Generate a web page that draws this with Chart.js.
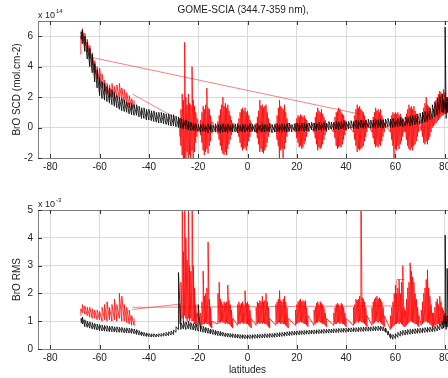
<html>
<head>
<meta charset="UTF-8">
<title>GOME-SCIA BrO</title>
<script src="https://cdn.jsdelivr.net/npm/chart.js@4.4.0/dist/chart.umd.min.js"></script>
<style>
body { margin: 0; width: 448px; height: 378px; overflow: hidden; background: #fff; position: relative; }
canvas { position: absolute; left: 0; }
</style>
</head>
<body>
<canvas id="scd" width="470" height="178" style="top:0"></canvas>
<canvas id="rms" width="470" height="188" style="top:190px"></canvas>
<script>
// black series: latitudes, low / high edge of the noisy track
// SCD in 1e14 molec/cm2, RMS in 1e-3
const blackLat = [-67.5,-67,-66,-65,-64,-63,-62,-61,-60,-59,-58,-57,-56,-55,-54,-53,-52,-51,-50,-49,-48,-47,-46,-45,-44,-43,-42,-41,-40,-39,-38,-37,-36,-35,-34,-33,-32,-31,-30,-29,-28,-27,-26,-25,-24,-23,-22,-21,-20,
  -19,-18,-17,-16,-15,-14,-13,-12,-11,-10,
  -9,-8,-7,-6,-5,-4,-3,-2,-1,0,
  1,2,3,4,5,6,7,8,9,10,
  11,12,13,14,15,16,17,18,19,20,
  21,22,23,24,25,26,27,28,29,30,
  31,32,33,34,35,36,37,38,39,40,
  41,42,43,44,45,46,47,48,49,50,
  51,52,53,54,55,56,57,58,59,60,
  61,62,63,64,65,66,67,68,69,70,
  71,72,73,74,75,76,77,78,79,
  79.6,80.2,80.6,81,81.5,82,83,84];
const blackScdLo = [5.8,5.5,5.0,4.5,4.0,3.6,3.0,2.6,2.1,1.9,1.8,1.7,1.6,1.5,1.4,1.3,1.2,1.1,1.05,1.0,0.9,0.85,0.8,0.8,0.7,0.6,0.6,0.5,0.5,0.45,0.4,0.35,0.3,0.3,0.25,0.2,0.15,0.1,0.1,0.05,0.0,-0.05,-0.1,-0.1,-0.15,-0.2,-0.2,-0.25,-0.26,
  -0.3,-0.25,-0.3,-0.35,-0.25,-0.3,-0.3,-0.25,-0.35,-0.3,
  -0.3,-0.35,-0.25,-0.3,-0.3,-0.35,-0.25,-0.3,-0.3,-0.25,
  -0.3,-0.25,-0.3,-0.35,-0.25,-0.3,-0.3,-0.25,-0.3,-0.35,
  -0.3,-0.25,-0.3,-0.3,-0.25,-0.3,-0.25,-0.3,-0.2,-0.25,
  -0.25,-0.2,-0.25,-0.2,-0.25,-0.15,-0.2,-0.2,-0.15,-0.2,
  -0.15,-0.2,-0.15,-0.1,-0.15,-0.1,-0.15,-0.1,-0.1,-0.15,
  -0.1,-0.05,-0.1,-0.05,-0.1,0.0,-0.05,-0.05,0.0,-0.05,
  0.0,-0.05,0.0,0.0,-0.05,0.0,0.05,0.0,0.0,0.05,
  0.05,0.1,0.05,0.1,0.15,0.1,0.15,0.2,0.2,0.25,
  0.3,0.35,0.4,0.5,0.6,0.7,0.8,0.9,1.0,
  1.0,1.2,0.6,1.0,0.9,1.0,1.0,1.1];
const blackScdHi = [6.3,6.4,6.0,5.6,5.2,4.8,4.2,3.8,3.3,3.0,2.9,2.7,2.6,2.5,2.3,2.1,2.0,1.9,1.8,1.7,1.6,1.6,1.5,1.5,1.4,1.3,1.3,1.2,1.2,1.1,1.1,1.0,1.0,1.0,0.95,0.9,0.9,0.85,0.85,0.75,0.7,0.6,0.55,0.5,0.4,0.35,0.3,0.25,0.2,
  0.2,0.25,0.15,0.25,0.2,0.15,0.25,0.2,0.2,0.25,
  0.2,0.25,0.15,0.2,0.25,0.2,0.15,0.25,0.2,0.2,
  0.25,0.2,0.2,0.25,0.15,0.25,0.2,0.2,0.25,0.2,
  0.2,0.25,0.2,0.25,0.2,0.25,0.3,0.2,0.25,0.3,
  0.25,0.3,0.3,0.25,0.3,0.35,0.3,0.3,0.35,0.3,
  0.35,0.3,0.4,0.35,0.35,0.4,0.35,0.4,0.45,0.4,
  0.4,0.45,0.4,0.5,0.45,0.5,0.45,0.5,0.55,0.5,
  0.5,0.55,0.5,0.55,0.5,0.55,0.6,0.55,0.6,0.55,
  0.6,0.65,0.6,0.7,0.7,0.75,0.8,0.8,0.9,0.95,
  1.0,1.05,1.1,1.3,1.5,1.7,1.9,2.1,2.2,
  1.8,6.6,1.6,2.0,1.8,1.9,1.7,1.6];
const blackRmsLo = [0.95,0.9,0.8,0.78,0.75,0.72,0.7,0.68,0.66,0.65,0.64,0.63,0.62,0.62,0.61,0.6,0.6,0.6,0.58,0.58,0.57,0.56,0.55,0.52,0.5,0.48,0.46,0.45,0.44,0.43,0.43,0.43,0.44,0.45,0.46,0.47,0.48,0.5,0.52,0.6,0.7,0.7,0.72,0.7,0.72,0.7,0.68,0.66,0.64,
  0.62,0.6,0.58,0.56,0.54,0.52,0.5,0.48,0.47,0.46,
  0.44,0.43,0.42,0.41,0.4,0.39,0.38,0.38,0.37,0.37,
  0.37,0.38,0.38,0.39,0.39,0.4,0.4,0.41,0.41,0.42,
  0.42,0.43,0.44,0.45,0.46,0.47,0.48,0.49,0.5,0.5,
  0.51,0.52,0.52,0.53,0.53,0.54,0.54,0.55,0.55,0.56,
  0.56,0.57,0.57,0.58,0.58,0.59,0.59,0.6,0.6,0.6,
  0.61,0.61,0.62,0.62,0.62,0.63,0.63,0.64,0.64,0.64,
  0.65,0.65,0.66,0.66,0.65,0.6,0.5,0.38,0.35,0.38,
  0.42,0.46,0.49,0.5,0.52,0.53,0.54,0.55,0.56,0.57,
  0.58,0.59,0.6,0.61,0.62,0.63,0.65,0.68,0.72,
  0.75,0.8,0.7,0.8,0.75,0.8,0.8,0.85];
const blackRmsHi = [1.1,1.15,1.05,1.0,0.98,0.95,0.92,0.9,0.88,0.86,0.85,0.84,0.82,0.82,0.8,0.8,0.78,0.78,0.76,0.76,0.75,0.74,0.72,0.7,0.66,0.62,0.6,0.58,0.56,0.55,0.55,0.54,0.55,0.56,0.58,0.6,0.62,0.65,0.68,0.8,2.75,0.95,1.0,0.98,1.0,0.95,0.92,0.9,1.6,
  0.85,0.82,0.78,0.75,0.72,0.7,0.67,0.65,0.63,0.6,
  0.58,0.57,0.56,0.55,0.54,0.53,0.52,0.52,0.51,0.51,
  0.51,0.52,0.52,0.53,0.53,0.54,0.55,0.55,0.56,0.56,
  0.57,0.58,0.59,0.6,0.61,0.62,0.63,0.64,0.65,0.65,
  0.66,0.66,0.67,0.67,0.68,0.68,0.69,0.69,0.7,0.7,
  0.71,0.71,0.72,0.72,0.73,0.73,0.74,0.74,0.75,0.75,
  0.76,0.76,0.77,0.77,0.78,0.78,0.79,0.79,0.8,0.8,
  0.81,0.81,0.82,0.82,0.8,0.76,0.65,0.55,0.52,0.55,
  0.6,0.64,0.67,0.68,0.7,0.71,0.72,0.73,0.74,0.75,
  0.76,0.77,0.78,0.79,0.8,0.82,0.85,0.9,1.0,
  1.2,4.1,1.0,2.9,1.1,1.2,1.1,1.1];

// red series: south polar track, then one burst per orbit (low / high edge)
const redLat = [
  -67.6,-67,-66,-65,-64,-63,-62,-61,-60,-59,-58,-57,-56,-55,-54,-53,-52,-51,-50,-49,-48,-47,-46,
  null,
  -27.5,-27,-26.5,-26,-25.5,-25,-24.5,-24,-23.5,-23,-22.5,-22,-21.5,-21,-20.5,
  -19,-18.5,-18,-17.5,-17,-16.5,-16,-15.5,-15,-14.5,
  -12,-11.5,-11,-10.5,-10,-9.5,-9,-8.5,-8,-7.5,-7,-6.5,-6,
  -4,-3.5,-3,-2.5,-2,-1.5,-1,-0.5,0,0.5,1,1.5,
  3.5,4,4.5,5,5.5,6,6.5,7,7.5,8,8.5,9,
  11.5,12,12.5,13,13.5,14,14.5,15,15.5,16,16.5,
  19.5,20,20.5,21,21.5,22,22.5,23,23.5,24,24.5,
  27,27.5,28,28.5,29,29.5,30,30.5,31,31.5,32,
  35,35.5,36,36.5,37,37.5,38,38.5,39,39.5,40,
  43,43.5,44,44.5,45,45.5,46,46.5,47,47.5,48,48.5,
  50.5,51,51.5,52,52.5,53,53.5,54,54.5,55,55.5,
  58,58.5,59,59.5,60,60.5,61,61.5,62,62.5,63,63.5,
  64,64.5,65,65.5,66,66.5,67,67.5,68,68.5,69,69.5,
  70.5,71,71.5,72,72.5,73,73.5,74,74.5,75,
  75.5,76,76.5,77,77.5,78,78.5,79,79.5,80,80.5,81,81.5,82];
const redScdLo = [
  4.8,5.8,5.4,5.0,4.5,4.1,3.6,3.2,2.9,2.6,2.4,2.2,2.0,2.0,1.9,2.0,1.9,1.8,1.6,1.5,1.3,1.2,1.3,
  null,
  -0.6,-1.2,-1.8,-2.2,-2.5,-2.0,-1.6,-2.5,-1.8,-2.5,-1.5,-2.5,-1.6,-1.0,-0.6,
  -0.5,-1.0,-1.5,-1.8,-1.6,-1.4,-1.7,-1.2,-0.9,-0.4,
  -0.4,-0.8,-1.2,-1.5,-1.7,-1.8,-1.6,-1.8,-1.4,-1.1,-0.8,-0.5,-0.3,
  -0.3,-0.6,-1.0,-1.3,-1.5,-1.4,-1.3,-1.5,-1.2,-0.9,-0.6,-0.3,
  -0.3,-0.7,-1.1,-1.6,-1.4,-1.6,-1.7,-1.5,-1.3,-1.0,-0.6,-0.3,
  -0.3,-0.8,-1.2,-2.5,-1.5,-1.4,-2.6,-1.4,-1.0,-0.6,-0.3,
  -0.3,-0.7,-1.0,-1.3,-1.2,-1.4,-1.3,-1.1,-0.9,-0.6,-0.3,
  -0.3,-0.7,-1.1,-1.5,-1.3,-1.4,-1.3,-1.1,-0.8,-0.5,-0.3,
  -0.3,-0.7,-1.2,-1.4,-1.3,-1.2,-1.3,-1.1,-0.8,-0.5,-0.2,
  -0.3,-0.8,-1.2,-1.6,-1.4,-1.5,-1.4,-1.3,-1.2,-0.9,-0.6,-0.3,
  -0.3,-0.7,-1.1,-1.3,-1.2,-1.3,-1.1,-1.2,-0.9,-0.6,-0.3,
  -0.3,-0.8,-1.2,-2.6,-1.4,-1.5,-1.2,-1.4,-1.1,-0.9,-0.6,-0.3,
  -0.3,-0.8,-1.2,-1.4,-1.5,-1.3,-1.5,-1.2,-1.1,-0.9,-0.6,-0.3,
  -0.2,-0.6,-1.0,-1.1,-0.9,-1.1,-0.8,-0.6,-0.3,0.0,
  0.1,0.2,0.3,0.4,0.5,0.6,0.7,0.8,0.8,0.9,0.9,1.0,1.0,1.1];
const redScdHi = [
  6.0,6.5,6.2,5.8,5.4,4.9,4.4,4.0,3.9,3.5,3.1,2.9,2.8,2.9,2.7,2.8,2.9,2.6,2.5,2.3,2.1,1.9,1.8,
  null,
  0.6,1.2,2.2,1.8,5.6,2.0,1.5,2.2,1.6,1.5,4.0,1.8,1.4,1.0,0.6,
  0.5,1.0,1.4,1.2,1.5,2.6,1.3,1.2,0.8,0.4,
  0.4,0.8,1.2,1.5,2.0,1.4,1.6,1.3,1.5,1.1,0.8,0.5,0.3,
  0.3,0.6,1.0,1.2,1.3,1.1,1.3,1.0,1.1,0.8,0.5,0.3,
  0.3,0.7,1.1,1.8,1.4,1.5,1.3,1.4,1.5,1.0,0.6,0.3,
  0.3,0.8,1.3,1.8,1.4,1.3,1.2,1.5,1.0,0.6,0.3,
  0.3,0.6,0.8,0.7,0.85,0.8,0.7,0.8,0.6,0.5,0.3,
  0.3,0.7,1.0,1.3,1.1,1.0,1.2,0.9,0.7,0.5,0.3,
  0.3,0.7,1.0,1.1,1.3,1.2,1.0,0.9,0.8,0.5,0.3,
  0.3,0.8,1.2,1.5,1.3,1.4,1.2,1.1,1.0,0.8,0.5,0.3,
  0.3,0.7,1.0,1.3,1.1,1.2,1.0,1.2,0.8,0.6,0.3,
  0.4,0.8,1.0,0.9,1.0,0.9,1.0,0.8,0.9,0.7,0.5,0.3,
  0.4,0.9,1.2,1.5,1.3,1.4,1.2,1.4,1.1,0.9,0.6,0.4,
  0.5,1.0,1.3,1.6,2.0,1.5,1.4,1.1,0.8,0.6,
  1.2,1.5,1.8,2.0,2.2,2.4,2.3,2.2,2.5,2.3,2.0,1.9,1.8,1.7];
const redRmsLo = [
  1.2,1.3,1.25,1.2,1.15,1.1,1.1,1.05,1.05,1.0,1.05,1.0,1.05,1.0,1.05,1.0,1.1,1.0,1.0,0.95,0.9,0.85,0.85,
  null,
  0.9,1.0,1.1,1.0,1.2,1.1,1.0,1.1,1.0,1.1,1.0,1.0,0.9,0.9,0.8,
  0.8,0.85,0.9,0.9,0.95,0.9,0.9,0.85,0.8,0.75,
  0.9,0.95,0.95,1.0,0.95,0.95,0.9,0.95,0.9,0.9,0.85,0.8,0.75,
  0.85,0.9,0.9,0.95,0.95,0.9,0.95,0.9,0.9,0.85,0.8,0.75,
  0.85,0.9,0.95,0.9,0.95,0.9,0.95,0.9,0.9,0.85,0.8,0.75,
  0.85,0.9,0.95,0.95,0.9,0.95,0.9,0.9,0.85,0.8,0.75,
  0.85,0.9,0.95,0.95,1.0,0.95,0.95,0.9,0.9,0.85,0.8,
  0.85,0.9,0.95,0.95,1.0,0.95,0.95,0.9,0.9,0.85,0.8,
  0.85,0.9,0.9,0.95,0.95,0.9,0.95,0.9,0.9,0.85,0.8,
  0.85,0.9,0.95,1.0,0.95,1.0,1.0,0.95,0.95,0.9,0.85,0.8,
  0.85,0.9,0.95,1.0,1.0,0.95,1.0,0.95,0.9,0.85,0.8,
  0.7,0.75,0.8,0.85,0.9,0.9,0.95,0.9,0.95,0.9,0.85,0.8,
  0.8,0.85,0.9,0.95,1.0,1.0,0.95,0.95,0.9,0.9,0.85,0.8,
  0.85,0.9,0.95,1.0,1.0,0.95,0.95,0.9,0.85,0.8,
  0.8,0.85,0.85,0.9,0.9,0.9,0.85,0.85,0.9,0.9,0.9,0.9,0.85,0.85];
const redRmsHi = [
  1.45,1.6,1.55,1.5,1.5,1.45,1.4,1.4,1.35,1.5,1.6,1.7,1.5,1.6,1.8,1.6,2.0,1.9,1.6,1.5,1.4,1.2,1.1,
  null,
  1.6,2.4,6.0,3.5,6.0,4.0,3.2,6.0,3.0,2.8,6.0,3.0,2.2,1.6,1.3,
  1.3,1.7,2.8,1.9,2.0,2.2,3.85,1.8,1.5,1.0,
  2.0,2.4,1.8,1.7,1.6,1.7,1.65,1.7,2.3,1.75,1.6,1.4,1.1,
  1.6,1.7,1.6,1.65,1.7,1.6,2.1,1.65,1.7,1.6,1.4,1.1,
  1.5,1.7,1.65,1.75,1.7,1.9,1.7,1.75,2.0,1.7,1.5,1.1,
  1.6,1.7,1.8,2.1,1.75,1.7,1.8,1.9,1.7,1.5,1.1,
  1.4,1.6,1.7,1.75,1.8,1.7,1.75,1.7,1.75,1.5,1.2,
  1.4,1.5,1.65,1.7,1.6,1.7,1.65,1.6,1.5,1.3,1.1,
  1.3,1.5,1.6,1.65,1.6,1.55,1.65,1.6,1.5,1.3,1.1,
  1.5,1.6,1.8,1.75,1.8,1.9,7.0,1.85,1.8,1.7,1.5,1.2,
  1.5,1.7,1.8,1.85,1.9,1.8,1.85,1.8,1.7,1.5,1.2,
  1.2,1.5,1.7,2.0,2.3,2.0,2.2,2.5,2.0,2.4,3.0,1.5,
  1.4,1.8,2.2,2.4,3.1,2.8,2.6,2.4,2.0,1.8,1.5,1.2,
  1.4,1.7,2.0,2.2,2.5,2.85,2.2,1.9,1.6,1.3,
  1.3,1.5,1.7,1.8,1.6,1.9,1.7,1.5,1.4,1.3,1.2,1.2,1.1,1.1];

// straight red jumps between orbit segments
const scdLinkLat = [-63, 45, null, -46.7, -30];
const scdLinkVal = [4.6, 0.9, null, 2.2, 0.7];
const rmsLinkLat = [-46.7, -27, null, -46.7, 60.2, 60.6, 63.6];
const rmsLinkVal = [1.42, 1.62, null, 1.5, 1.55, 2.5, 2.5];

// each latitude sample gives a stroke from its low to its high value
function band(xs, lo, hi) {
  const out = [];
  xs.forEach((x, i) => {
    if (x === null) { out.push({ x: null, y: null }); return; }
    out.push({ x: x, y: lo[i] }, { x: x, y: hi[i] });
  });
  return out;
}
const pts = (xs, ys) => xs.map((x, i) => ({ x: x, y: ys[i] }));

Chart.defaults.font.family = '"Liberation Sans", Arial, sans-serif';

const frame = {
  id: 'frame',
  afterDraw(chart, args, opts) {
    const ctx = chart.ctx, a = chart.chartArea, sx = chart.scales.x, sy = chart.scales.y;
    ctx.save();
    ctx.strokeStyle = '#7f7f7f';
    ctx.lineWidth = 1;
    ctx.strokeRect(Math.round(a.left) + 0.5, Math.round(a.top) + 0.5, Math.round(a.right - a.left), Math.round(a.bottom - a.top));
    ctx.strokeStyle = '#333';
    ctx.beginPath();
    sx.ticks.forEach(t => {
      const px = Math.round(sx.getPixelForValue(t.value)) + 0.5;
      ctx.moveTo(px, a.top); ctx.lineTo(px, a.top + 4);
      ctx.moveTo(px, a.bottom); ctx.lineTo(px, a.bottom - 4);
    });
    sy.ticks.forEach(t => {
      const py = Math.round(sy.getPixelForValue(t.value)) + 0.5;
      ctx.moveTo(a.left, py); ctx.lineTo(a.left + 4, py);
    });
    ctx.stroke();
    ctx.fillStyle = '#222';
    ctx.textBaseline = 'alphabetic';
    ctx.font = '9px "Liberation Sans", Arial, sans-serif';
    ctx.fillText('x 10', a.left, a.top - 3);
    const w = ctx.measureText('x 10').width;
    ctx.font = '6px "Liberation Sans", Arial, sans-serif';
    ctx.fillText(opts.expo, a.left + w + 1, a.top - 8);
    if (opts.title) {
      ctx.font = '10px "Liberation Sans", Arial, sans-serif';
      ctx.textAlign = 'center';
      ctx.textBaseline = 'middle';
      ctx.fillText(opts.title, 243, 10);
    }
    ctx.restore();
  }
};

function panel(id, sets, yMin, yMax, yStep, padTop, xHeight, yTitle, expo, title, xTitle) {
  return new Chart(document.getElementById(id), {
    type: 'line',
    data: { datasets: sets },
    options: {
      responsive: false,
      animation: false,
      events: [],
      layout: { padding: { top: padTop, right: 13, left: 0, bottom: 0 } },
      plugins: { legend: { display: false }, tooltip: { enabled: false }, frame: { expo: expo, title: title } },
      elements: { point: { radius: 0 }, line: { tension: 0 } },
      scales: {
        x: {
          type: 'linear', min: -85, max: 85,
          afterFit: s => { s.height = xHeight; },
          ticks: { stepSize: 20, includeBounds: false, padding: 3, color: '#222', maxRotation: 0, autoSkip: false, font: { size: 10 } },
          grid: { color: '#dadada', drawTicks: false },
          border: { display: false },
          title: { display: !!xTitle, text: xTitle || '', color: '#222', font: { size: 10 }, padding: { top: 0, bottom: 2 } }
        },
        y: {
          min: yMin, max: yMax,
          afterFit: s => { s.width = 38; },
          ticks: { stepSize: yStep, includeBounds: false, padding: 5, color: '#222', font: { size: 10 } },
          grid: { color: '#dadada', drawTicks: false },
          border: { display: false },
          title: { display: true, text: yTitle, color: '#222', font: { size: 10 }, padding: { top: 11, bottom: 0 } }
        }
      }
    },
    plugins: [frame]
  });
}

function sets(bLo, bHi, rLo, rHi, linkLat, linkVal) {
  return [
    { data: band(blackLat, bLo, bHi), borderColor: 'rgba(0,0,0,0.9)', borderWidth: 0.9, order: 0 },
    { data: band(redLat, rLo, rHi), borderColor: '#ff0000', borderWidth: 0.8, order: 1 },
    { data: pts(linkLat, linkVal), borderColor: 'rgba(240,70,70,0.85)', borderWidth: 0.8, order: 2 }
  ];
}

panel('scd', sets(blackScdLo, blackScdHi, redScdLo, redScdHi, scdLinkLat, scdLinkVal), -2, 7, 2, 21, 20,
  'BrO SCD (mol.cm-2)', '14', 'GOME-SCIA (344.7-359 nm),', '');
panel('rms', sets(blackRmsLo, blackRmsHi, redRmsLo, redRmsHi, rmsLinkLat, rmsLinkVal), 0, 5, 1, 20, 29,
  'BrO RMS', '-3', '', 'latitudes');
</script>
</body>
</html>
